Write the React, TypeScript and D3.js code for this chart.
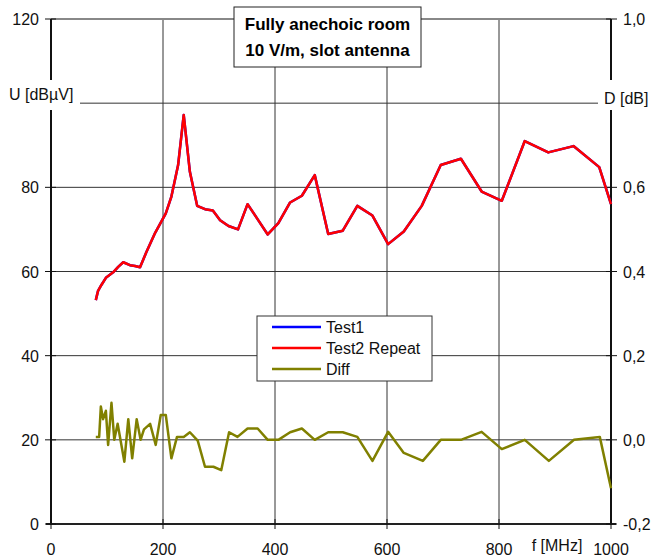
import React from 'react';
import * as d3 from 'd3';

// frequency points of the two runs [MHz]
const freq = [80, 84, 90, 98, 111, 120, 129, 141, 150, 159, 170, 186, 196, 205, 215, 227, 237, 248, 261, 275, 289, 302, 317, 334, 351, 370, 387, 406, 427, 448, 471, 495, 521, 547, 574, 602, 630, 662, 696, 732, 769, 805, 846, 888, 933, 979, 1000];
// U [dBµV]
const test1 = [53.2, 55.4, 56.8, 58.5, 59.8, 61.1, 62.2, 61.5, 61.3, 61.0, 64.5, 69.2, 71.6, 73.8, 77.8, 85.3, 97.2, 83.7, 75.6, 74.8, 74.5, 72.2, 70.8, 70.0, 76.0, 72.2, 68.8, 71.5, 76.4, 78.0, 82.9, 68.9, 69.7, 75.6, 73.3, 66.5, 69.5, 75.6, 85.3, 86.8, 79.0, 76.8, 91.0, 88.3, 89.8, 84.8, 76.0];
const test2 = [53.2, 55.4, 56.8, 58.5, 59.8, 61.1, 62.2, 61.5, 61.3, 61.0, 64.5, 69.2, 71.6, 73.8, 77.8, 85.3, 97.2, 83.7, 75.6, 74.8, 74.5, 72.2, 70.8, 70.0, 76.0, 72.2, 68.8, 71.5, 76.4, 78.0, 82.9, 68.9, 69.7, 75.6, 73.3, 66.5, 69.5, 75.6, 85.3, 86.8, 79.0, 76.8, 91.0, 88.3, 89.8, 84.8, 76.0];

// difference D [dB]
const diffFreq = [80, 86, 89, 93, 98, 102, 108, 113, 119, 131, 138, 145, 153, 160, 166, 177, 187, 196, 205, 215, 225, 237, 248, 262, 275, 290, 304, 318, 333, 351, 369, 387, 406, 427, 448, 471, 495, 521, 547, 574, 602, 630, 664, 696, 732, 769, 805, 846, 889, 934, 980, 1000];
const diff = [0.007, 0.007, 0.079, 0.049, 0.069, -0.012, 0.088, 0.0, 0.038, -0.052, 0.049, -0.044, 0.049, 0.0, 0.025, 0.038, -0.012, 0.059, 0.059, -0.044, 0.007, 0.007, 0.018, -0.002, -0.064, -0.064, -0.072, 0.018, 0.007, 0.027, 0.027, 0.0, 0.0, 0.018, 0.027, 0.0, 0.018, 0.018, 0.007, -0.05, 0.019, -0.031, -0.05, 0.0, 0.0, 0.019, -0.022, 0.0, -0.05, 0.0, 0.007, -0.115];

const xTicks = [0, 200, 400, 600, 800, 1000];
const uTicks = [0, 20, 40, 60, 80, 120];
const uGrid = [20, 40, 60, 80, 100];
const dTicks = [-0.2, 0.0, 0.2, 0.4, 0.6, 1.0];

const legendItems = [
  { label: 'Test1', color: '#0000ff' },
  { label: 'Test2 Repeat', color: '#ff0000' },
  { label: 'Diff', color: '#808000' },
];

const font = 'Liberation Sans, Arial, Helvetica, sans-serif';

export default function App() {
  const W = 668, H = 560;
  const x = d3.scaleLinear().domain([0, 1000]).range([51, 611]);
  const yU = d3.scaleLinear().domain([0, 120]).range([524, 19]);
  const yD = d3.scaleLinear().domain([-0.2, 1.0]).range([524, 19]);

  const lineU = d3.line<number>().x((_, i) => x(freq[i])).y(d => yU(d));
  const lineD = d3.line<number>().x((_, i) => x(diffFreq[i])).y(d => yD(d));

  const fmtD = (v: number) => v.toFixed(1).replace('.', ',');

  return (
    <svg width={W} height={H} style={{ position: 'absolute', left: 0, top: 0, background: '#fff' }} fontFamily={font}>
      <rect width={W} height={H} fill="#fff" />

      {/* vertical grid */}
      {xTicks.slice(1, -1).map(t => (
        <line key={'vx' + t} x1={x(t)} x2={x(t)} y1={yU(120)} y2={yU(0)} stroke="#333" strokeWidth={1} />
      ))}
      {/* horizontal grid */}
      {uGrid.map(t => (
        <line key={'hy' + t} x1={x(0)} x2={x(1000)} y1={yU(t)} y2={yU(t)} stroke="#333" strokeWidth={1} />
      ))}
      <line x1={x(0)} x2={x(1000)} y1={yU(120)} y2={yU(120)} stroke="#888" strokeWidth={2} />

      {/* axes */}
      <line x1={x(0)} x2={x(0)} y1={yU(120)} y2={yU(0)} stroke="#111" strokeWidth={2} />
      <line x1={x(1000)} x2={x(1000)} y1={yU(120)} y2={yU(0)} stroke="#111" strokeWidth={2} />
      <line x1={x(0) - 5} x2={x(1000) + 5} y1={yU(0)} y2={yU(0)} stroke="#222" strokeWidth={2} />

      {/* left ticks */}
      {uTicks.map(t => (
        <g key={'lt' + t}>
          <line x1={x(0) - 6} x2={x(0) + 5} y1={yU(t)} y2={yU(t)} stroke="#111" strokeWidth={1} />
          <text x={x(0) - 12} y={yU(t) + 6} fontSize={16} textAnchor="end" fill="#111">{t}</text>
        </g>
      ))}
      {/* right ticks */}
      {dTicks.map(t => (
        <g key={'rt' + t}>
          <line x1={x(1000) - 5} x2={x(1000) + 6} y1={yD(t)} y2={yD(t)} stroke="#111" strokeWidth={1} />
          <text x={x(1000) + 12} y={yD(t) + 6} fontSize={16} textAnchor="start" fill="#111">{fmtD(t)}</text>
        </g>
      ))}
      {/* bottom ticks */}
      {xTicks.map(t => (
        <g key={'bt' + t}>
          <line x1={x(t)} x2={x(t)} y1={yU(0) - 5} y2={yU(0) + 5} stroke="#111" strokeWidth={1} />
          <text x={x(t)} y={555} fontSize={16} textAnchor="middle" fill="#111">{t}</text>
        </g>
      ))}

      {/* axis titles with white backing */}
      <rect x={4} y={80} width={76} height={30} fill="#fff" />
      <text x={9} y={100} fontSize={16} fill="#111">U [dBµV]</text>
      <rect x={598} y={80} width={66} height={30} fill="#fff" />
      <text x={604} y={104} fontSize={16} fill="#111">D [dB]</text>
      <text x={557} y={551} fontSize={16} textAnchor="middle" fill="#111">f [MHz]</text>

      {/* data */}
      <path d={lineU(test1) || ''} fill="none" stroke="#0000ff" strokeWidth={2.5} strokeLinejoin="round" />
      <path d={lineU(test2) || ''} fill="none" stroke="#ff0000" strokeWidth={2.5} strokeLinejoin="round" />
      <path d={lineD(diff) || ''} fill="none" stroke="#808000" strokeWidth={2.5} strokeLinejoin="round" />

      {/* title box */}
      <rect x={234} y={7} width={187} height={60} fill="#fff" stroke="#222" strokeWidth={1} />
      <text x={327.5} y={30} fontSize={17} fontWeight="bold" textAnchor="middle" fill="#000">Fully anechoic room</text>
      <text x={327.5} y={56} fontSize={17} fontWeight="bold" textAnchor="middle" fill="#000">10 V/m, slot antenna</text>

      {/* legend */}
      <rect x={257} y={316} width={175} height={65} fill="#fff" stroke="#333" strokeWidth={1} />
      {legendItems.map((it, i) => (
        <g key={it.label}>
          <line x1={272} x2={321} y1={327 + i * 21} y2={327 + i * 21} stroke={it.color} strokeWidth={2.5} />
          <text x={326} y={333 + i * 21} fontSize={16} fill="#111">{it.label}</text>
        </g>
      ))}
    </svg>
  );
}
